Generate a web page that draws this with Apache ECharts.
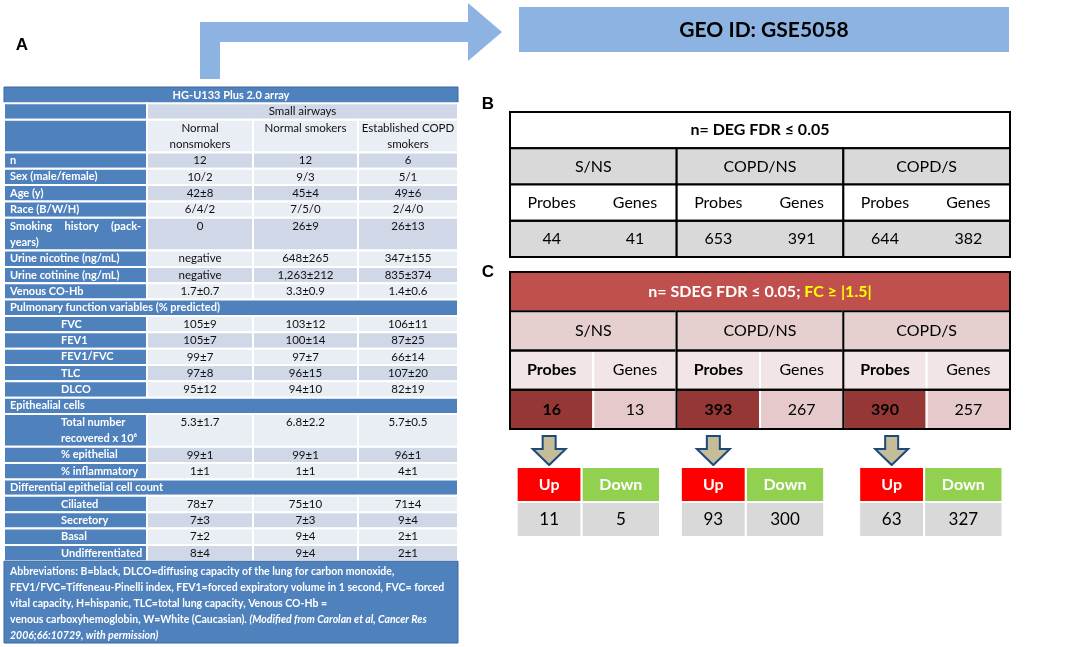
<!DOCTYPE html>
<html lang="en">
<head>
    <meta charset="UTF-8">
    <title>GEO ID: GSE5058</title>
    <script src="https://cdn.jsdelivr.net/npm/echarts@6/dist/echarts.min.js"></script>
    <style>
        html, body {margin: 0; padding: 0; background: #fff;}
        #main {width: 1084px; height: 647px;}
    </style>
</head>
<body>
<div id="main"></div>
<script>
    var FONT = 'Lato, "Noto Sans", sans-serif';

    // ---- panel A : study population table
    var arrayName = 'HG-U133 Plus 2.0 array';
    var tissue = 'Small airways';
    var subjectGroups = ['Normal\nnonsmokers', 'Normal smokers', 'Established COPD\nsmokers'];
    var clinicalLabels = ['n', 'Sex (male/female)', 'Age (y)', 'Race (B/W/H)', 'Smoking history (pack-\nyears)',
        'Urine nicotine (ng/mL)', 'Urine cotinine (ng/mL)', 'Venous CO-Hb'];
    var pulmonaryTitle = 'Pulmonary function variables (% predicted)';
    var pulmonaryLabels = ['FVC', 'FEV1', 'FEV1/FVC', 'TLC', 'DLCO'];
    var epithelialTitle = 'Epithealial cells';
    var epithelialLabels = ['Total number\nrecovered x 10\u2076', '% epithelial', '% inflammatory'];
    var differentialTitle = 'Differential epithelial cell count';
    var differentialLabels = ['Ciliated', 'Secretory', 'Basal', 'Undifferentiated'];
    var nonsmokers = ['12', '10/2', '42±8', '6/4/2', '0', 'negative', 'negative', '1.7±0.7',
        '105±9', '105±7', '99±7', '97±8', '95±12', '5.3±1.7', '99±1', '1±1', '78±7', '7±3', '7±2', '8±4'];
    var smokers = ['12', '9/3', '45±4', '7/5/0', '26±9', '648±265', '1,263±212', '3.3±0.9',
        '103±12', '100±14', '97±7', '96±15', '94±10', '6.8±2.2', '99±1', '1±1', '75±10', '7±3', '9±4', '9±4'];
    var copdSmokers = ['6', '5/1', '49±6', '2/4/0', '26±13', '347±155', '835±374', '1.4±0.6',
        '106±11', '87±25', '66±14', '107±20', '82±19', '5.7±0.5', '96±1', '4±1', '71±4', '9±4', '2±1', '2±1'];
    var abbreviations = 'Abbreviations: B=black, DLCO=diffusing capacity of the lung for carbon monoxide,\n' +
        'FEV1/FVC=Tiffeneau-Pinelli index, FEV1=forced expiratory volume in 1 second, FVC= forced\n' +
        'vital capacity, H=hispanic, TLC=total lung capacity, Venous CO-Hb =\n' +
        'venous carboxyhemoglobin, W=White (Caucasian). ';
    var citation = '(Modified from Carolan et al, Cancer Res\n2006;66:10729, with permission)';

    // ---- panels B / C : gene counts
    var geoId = 'GEO ID: GSE5058';
    var comparisons = ['S/NS', 'COPD/NS', 'COPD/S'];
    var countHeads = ['Probes', 'Genes'];
    var degTitle = 'n= DEG FDR \u2264 0.05';
    var degProbes = [44, 653, 644];
    var degGenes = [41, 391, 382];
    var sdegTitle = 'n= SDEG FDR \u2264 0.05; ';
    var sdegFold = 'FC \u2265 |1.5|';
    var sdegProbes = [16, 393, 390];
    var sdegGenes = [13, 267, 257];
    var directions = ['Up', 'Down'];
    var upCounts = [11, 93, 63];
    var downCounts = [5, 300, 327];

    var STYLE = {
        aTitle: {fill: '#4F81BD', stroke: '#3A679E', lw: 1, color: '#fff', weight: 'bold', size: 11, align: 'center'},
        aLabel: {fill: '#4F81BD', stroke: '#fff', lw: 2, color: '#fff', weight: 'bold', size: 11, align: 'left', pad: 6},
        aSection: {fill: '#4F81BD', stroke: '#fff', lw: 2, color: '#fff', weight: 'bold', size: 11, align: 'left', pad: 6},
        aNote: {fill: '#4F81BD', stroke: '#3A679E', lw: 1, color: '#fff', weight: 'bold', size: 10.5, align: 'left', pad: 6, lh: 16, top: 2},
        aDark: {fill: '#D0D8E8', stroke: '#fff', lw: 2, color: '#111', size: 11.5, align: 'center'},
        aLight: {fill: '#E9EDF4', stroke: '#fff', lw: 2, color: '#111', size: 11.5, align: 'center'},
        bHead: {fill: '#fff', stroke: '#000', lw: 2, color: '#000', weight: 'bold', size: 16, align: 'center', mid: true},
        bGroup: {fill: '#D9D9D9', stroke: '#000', lw: 2, color: '#000', size: 16, align: 'center', mid: true},
        bSub: {fill: '#fff', stroke: '#fff', lw: 1, color: '#000', size: 16, align: 'center', mid: true},
        bNum: {fill: '#D9D9D9', stroke: '#D9D9D9', lw: 1, color: '#000', size: 16, align: 'center', mid: true},
        frame: {stroke: '#000', lw: 2},
        cHead: {fill: '#C0504D', stroke: '#000', lw: 2, color: '#fff', weight: 'bold', size: 16, align: 'center', mid: true},
        cGroup: {fill: '#E6CFCF', stroke: '#fff', lw: 2, color: '#000', size: 16, align: 'center', mid: true},
        cProbeHead: {fill: '#F2E5E5', stroke: '#fff', lw: 2, color: '#000', weight: 'bold', size: 16, align: 'center', mid: true},
        cGeneHead: {fill: '#F2E5E5', stroke: '#fff', lw: 2, color: '#000', size: 16, align: 'center', mid: true},
        cProbeNum: {fill: '#953735', stroke: '#fff', lw: 2, color: '#000', weight: 'bold', size: 16, align: 'center', mid: true},
        cGeneNum: {fill: '#E6CACB', stroke: '#fff', lw: 2, color: '#000', size: 16, align: 'center', mid: true},
        up: {fill: '#FF0000', stroke: '#fff', lw: 2, color: '#fff', weight: 'bold', size: 16, align: 'center', mid: true},
        down: {fill: '#92D050', stroke: '#fff', lw: 2, color: '#fff', weight: 'bold', size: 16, align: 'center', mid: true},
        count: {fill: '#D9D9D9', stroke: '#fff', lw: 2, color: '#000', size: 17, align: 'center', mid: true},
        arrow: {fill: '#C4BD97', stroke: '#1F497D', lw: 2}
    };

    // ---- build panel A cells (column index x, row units y)
    var aCols = [0, 143, 249, 354, 454];
    var aCells = [];
    var aRows = 0;
    function pushRow(span, cells) {
        cells.forEach(function (c) {
            c.y0 = aRows;
            c.y1 = aRows + span;
            aCells.push(c);
        });
        aRows += span;
    }
    pushRow(1, [{x0: 0, x1: 4, kind: 'aTitle', text: arrayName}]);
    pushRow(1, [{x0: 0, x1: 1, kind: 'aLabel', text: ''}, {x0: 1, x1: 4, kind: 'aDark', text: tissue}]);
    pushRow(2, [{x0: 0, x1: 1, kind: 'aLabel', text: ''}].concat(subjectGroups.map(function (g, i) {
        return {x0: i + 1, x1: i + 2, kind: 'aLight', text: g};
    })));
    var band = 0, vi = 0;
    function addBlock(labels, indent) {
        labels.forEach(function (lab) {
            var span = lab.indexOf('\n') >= 0 ? 2 : 1;
            var cells = [{x0: 0, x1: 1, kind: 'aLabel', text: lab, indent: indent, justify: !indent && span > 1}];
            [nonsmokers, smokers, copdSmokers].forEach(function (col, j) {
                cells.push({x0: j + 1, x1: j + 2, kind: band ? 'aLight' : 'aDark', text: col[vi]});
            });
            pushRow(span, cells);
            band = 1 - band;
            vi++;
        });
    }
    function addSection(title) {
        pushRow(1, [{x0: 0, x1: 4, kind: 'aSection', text: title}]);
        band = 1;
    }
    addBlock(clinicalLabels, false);
    addSection(pulmonaryTitle);
    addBlock(pulmonaryLabels, true);
    addSection(epithelialTitle);
    addBlock(epithelialLabels, true);
    addSection(differentialTitle);
    addBlock(differentialLabels, true);
    pushRow(5, [{x0: 0, x1: 4, kind: 'aNote', rich: true,
        text: '{n|' + abbreviations + '}{i|' + citation + '}'}]);
    aCells.forEach(function (c) {
        c.x0 = aCols[c.x0];
        c.x1 = aCols[c.x1];
    });

    // ---- panel B cells
    var bCells = [{x0: 0, x1: 6, y0: 0, y1: 1, kind: 'bHead', text: degTitle}];
    comparisons.forEach(function (name, g) {
        var x = 2 * g;
        bCells.push({x0: x, x1: x + 2, y0: 1, y1: 2, kind: 'bGroup', text: name});
        bCells.push({x0: x, x1: x + 1, y0: 2, y1: 3, kind: 'bSub', text: countHeads[0]});
        bCells.push({x0: x + 1, x1: x + 2, y0: 2, y1: 3, kind: 'bSub', text: countHeads[1]});
        bCells.push({x0: x, x1: x + 1, y0: 3, y1: 4, kind: 'bNum', text: String(degProbes[g])});
        bCells.push({x0: x + 1, x1: x + 2, y0: 3, y1: 4, kind: 'bNum', text: String(degGenes[g])});
        bCells.push({x0: x, x1: x + 2, y0: 2, y1: 3, kind: 'frame'});
        bCells.push({x0: x, x1: x + 2, y0: 3, y1: 4, kind: 'frame'});
    });
    bCells.push({x0: 0, x1: 6, y0: 0, y1: 4, kind: 'frame'});

    // ---- panel C cells
    var cCells = [{x0: 0, x1: 6, y0: 0, y1: 1, kind: 'cHead', rich: true,
        text: '{w|' + sdegTitle + '}{y|' + sdegFold + '}'}];
    comparisons.forEach(function (name, g) {
        var x = 2 * g;
        cCells.push({x0: x, x1: x + 2, y0: 1, y1: 2, kind: 'cGroup', text: name});
        cCells.push({x0: x, x1: x + 1, y0: 2, y1: 3, kind: 'cProbeHead', text: countHeads[0]});
        cCells.push({x0: x + 1, x1: x + 2, y0: 2, y1: 3, kind: 'cGeneHead', text: countHeads[1]});
        cCells.push({x0: x, x1: x + 1, y0: 3, y1: 4, kind: 'cProbeNum', text: String(sdegProbes[g])});
        cCells.push({x0: x + 1, x1: x + 2, y0: 3, y1: 4, kind: 'cGeneNum', text: String(sdegGenes[g])});
        for (var r = 1; r < 4; r++) {
            cCells.push({x0: x, x1: x + 2, y0: r, y1: r + 1, kind: 'frame'});
        }
    });
    cCells.push({x0: 0, x1: 6, y0: 0, y1: 4, kind: 'frame'});

    // ---- up / down split under panel C
    var udOffset = [0.08, 0.05, 0.19];
    var udCells = [];
    comparisons.forEach(function (name, g) {
        var x = 2 * g + udOffset[g];
        udCells.push({x0: x, x1: x + 0.78, y0: 0, y1: 1, kind: 'arrow'});
        udCells.push({x0: x, x1: x + 0.78, y0: 1, y1: 2, kind: 'up', text: directions[0]});
        udCells.push({x0: x + 0.78, x1: x + 1.72, y0: 1, y1: 2, kind: 'down', text: directions[1]});
        udCells.push({x0: x, x1: x + 0.78, y0: 2, y1: 3, kind: 'count', text: String(upCounts[g])});
        udCells.push({x0: x + 0.78, x1: x + 1.72, y0: 2, y1: 3, kind: 'count', text: String(downCounts[g])});
    });

    var measure = document.createElement('canvas').getContext('2d');
    function textWidth(s, font) {
        measure.font = font;
        return measure.measureText(s).width;
    }

    function cellSeries(gi, cells) {
        return {
            type: 'custom',
            xAxisIndex: gi,
            yAxisIndex: gi,
            silent: true,
            encode: {x: [0, 2], y: [1, 3]},
            data: cells.map(function (c) { return [c.x0, c.y0, c.x1, c.y1]; }),
            renderItem: function (params, api) {
                var c = cells[params.dataIndex];
                var s = STYLE[c.kind];
                var a = api.coord([api.value(0), api.value(1)]);
                var b = api.coord([api.value(2), api.value(3)]);
                var unit = api.size([0, 1])[1];
                var box = {x: a[0], y: a[1], width: b[0] - a[0], height: b[1] - a[1]};
                var kids = [];
                if (c.kind === 'arrow') {
                    var cx = (a[0] + b[0]) / 2, t = a[1] + 4, bt = b[1] - 2, m = t + (bt - t) * 0.45;
                    kids.push({type: 'polygon', shape: {points: [[cx - 6.5, t], [cx + 6.5, t], [cx + 6.5, m],
                        [cx + 16.5, m], [cx, bt], [cx - 16.5, m], [cx - 6.5, m]]},
                        style: {fill: s.fill, stroke: s.stroke, lineWidth: s.lw}});
                    return {type: 'group', children: kids};
                }
                kids.push({type: 'rect', shape: box,
                    style: {fill: s.fill || 'none', stroke: s.stroke || 'none', lineWidth: s.lw || 0}});
                if (!c.text) return {type: 'group', children: kids};
                var font = (s.weight || 'normal') + ' ' + s.size + 'px ' + FONT;
                var ty = s.mid ? box.y + box.height / 2 : box.y + (s.top || 0);
                var ts = {
                    fill: s.color, fontSize: s.size, fontWeight: s.weight || 'normal', fontFamily: FONT,
                    verticalAlign: s.mid ? 'middle' : 'top', lineHeight: s.lh || unit
                };
                var left = box.x + (s.pad || 0) + (c.indent ? 51 : 0);
                if (c.justify) {
                    var lines = c.text.split('\n');
                    var words = lines[0].split(' ');
                    var right = box.x + box.width - 6;
                    var used = 0;
                    words.forEach(function (w) { used += textWidth(w, font); });
                    var gap = (right - left - used) / (words.length - 1);
                    var px = left;
                    words.forEach(function (w) {
                        kids.push({type: 'text', x: px, y: ty, style: echarts.util.extend({text: w, align: 'left'}, ts)});
                        px += textWidth(w, font) + gap;
                    });
                    kids.push({type: 'text', x: left, y: ty + unit,
                        style: echarts.util.extend({text: lines.slice(1).join('\n'), align: 'left'}, ts)});
                    return {type: 'group', children: kids};
                }
                var tx = s.align === 'center' ? box.x + box.width / 2 : left;
                var style = echarts.util.extend({text: c.text, align: s.align}, ts);
                if (c.rich) {
                    style.rich = {
                        n: {fill: '#fff', fontSize: s.size, fontWeight: 'bold', fontFamily: FONT, lineHeight: s.lh || unit},
                        i: {fill: '#fff', fontSize: s.size, fontWeight: 'bold', fontStyle: 'italic', fontFamily: FONT, lineHeight: s.lh || unit},
                        w: {fill: '#fff', fontSize: s.size, fontWeight: 'bold', fontFamily: FONT},
                        y: {fill: '#FFFF00', fontSize: s.size, fontWeight: 'bold', fontFamily: FONT}
                    };
                }
                kids.push({type: 'text', x: tx, y: ty, style: style});
                return {type: 'group', children: kids};
            }
        };
    }

    function xAx(gi, max) { return {type: 'value', gridIndex: gi, min: 0, max: max, show: false}; }
    function yAx(gi, max) { return {type: 'value', gridIndex: gi, min: 0, max: max, inverse: true, show: false}; }

    var myChart = echarts.init(document.getElementById('main'));
    myChart.setOption({
        animation: false,
        grid: [
            {left: 4, top: 87, width: 454, height: 556},
            {left: 510, top: 112, width: 500, height: 145},
            {left: 510, top: 272, width: 500, height: 157},
            {left: 510, top: 432, width: 500, height: 105}
        ],
        xAxis: [xAx(0, 454), xAx(1, 6), xAx(2, 6), xAx(3, 6)],
        yAxis: [yAx(0, aRows), yAx(1, 4), yAx(2, 4), yAx(3, 3)],
        graphic: [
            {type: 'polygon', silent: true,
                shape: {points: [[200, 79], [220, 79], [220, 42], [468, 42], [468, 61], [502, 32], [468, 3], [468, 22], [200, 22]]},
                style: {fill: '#8DB3E2'}},
            {type: 'rect', silent: true, shape: {x: 519, y: 7, width: 490, height: 45}, style: {fill: '#8DB3E2'}},
            {type: 'text', silent: true, x: 764, y: 30,
                style: {text: geoId, fill: '#000', fontSize: 21, fontWeight: 'bold', fontFamily: FONT, align: 'center', verticalAlign: 'middle'}},
            {type: 'text', silent: true, x: 22, y: 45,
                style: {text: 'A', fill: '#000', fontSize: 17, fontWeight: 'bold', fontFamily: '"Liberation Sans", Arial, sans-serif', align: 'center', verticalAlign: 'middle'}},
            {type: 'text', silent: true, x: 488, y: 104,
                style: {text: 'B', fill: '#000', fontSize: 17, fontWeight: 'bold', fontFamily: '"Liberation Sans", Arial, sans-serif', align: 'center', verticalAlign: 'middle'}},
            {type: 'text', silent: true, x: 488, y: 272,
                style: {text: 'C', fill: '#000', fontSize: 17, fontWeight: 'bold', fontFamily: '"Liberation Sans", Arial, sans-serif', align: 'center', verticalAlign: 'middle'}}
        ],
        series: [cellSeries(0, aCells), cellSeries(1, bCells), cellSeries(2, cCells), cellSeries(3, udCells)]
    });
</script>
</body>
</html>
